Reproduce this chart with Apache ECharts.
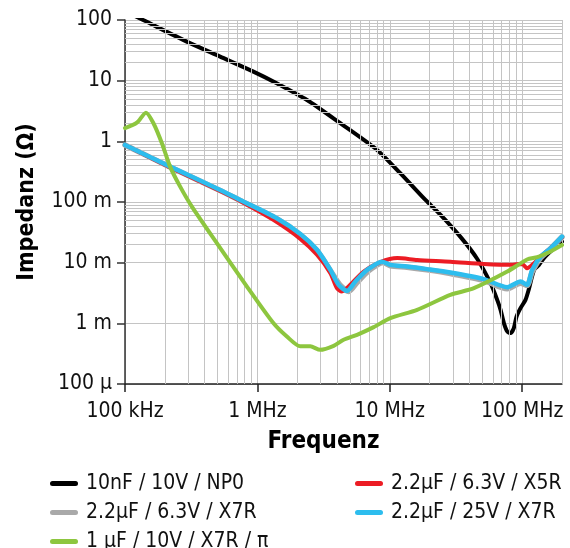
<!DOCTYPE html>
<html>
<head>
<meta charset="utf-8">
<script src="https://cdn.jsdelivr.net/npm/echarts@6/dist/echarts.min.js"></script>
<style>
  html, body { margin: 0; padding: 0; background: #fff; }
  #chart { width: 570px; height: 548px; }
</style>
</head>
<body>
<div id="chart"></div>
<script>
// Impedance vs. frequency of several MLCCs (log-log)
const FONT = "'DejaVu Sans Condensed', 'Liberation Sans Narrow', sans-serif";

const seriesNames = [
  '10nF / 10V / NP0',
  '2.2µF / 6.3V / X5R',
  '2.2µF / 6.3V / X7R',
  '2.2µF / 25V / X7R',
  '1 µF / 10V / X7R / π'
];

// frequency in Hz, impedance in Ohm
const freqNP0 = [1e5, 1.37e5, 2.93e5, 5.23e5, 9.33e5, 1.40e6, 2.37e6, 4.23e6, 8.02e6, 1.20e7, 1.86e7, 2.42e7, 3.42e7, 4.57e7, 5.77e7, 6.48e7, 6.87e7, 7.28e7, 7.72e7, 8.17e7, 8.65e7, 9.07e7, 9.72e7, 1.06e8, 1.12e8, 1.23e8, 1.34e8, 1.46e8, 1.69e8, 2.0e8];
const zNP0    = [140, 100, 44.0, 24.9, 14.1, 9.06, 4.81, 1.99, 0.722, 0.298, 0.108, 0.0613, 0.0266, 0.0116, 0.00459, 0.00244, 0.00167, 0.00101, 0.000733, 0.00069, 0.000834, 0.00129, 0.00178, 0.00244, 0.00356, 0.0076, 0.0092, 0.0119, 0.0163, 0.0223];

const freqX5R = [1e5, 2.19e5, 5.23e5, 7.41e5, 1.32e6, 2.11e6, 2.82e6, 3.56e6, 3.99e6, 4.35e6, 5.03e6, 6.35e6, 8.49e6, 1.14e7, 1.61e7, 2.87e7, 5.13e7, 8.17e7, 1.0e8, 1.09e8, 1.19e8, 1.38e8, 1.64e8, 2.0e8];
const zX5R    = [0.87, 0.372, 0.152, 0.104, 0.0507, 0.0247, 0.0135, 0.00671, 0.0038, 0.00334, 0.00431, 0.00713, 0.0102, 0.0119, 0.0111, 0.0104, 0.00955, 0.0092, 0.00955, 0.0081, 0.0092, 0.0126, 0.0175, 0.0261];

const freqX7R6 = [1e5, 2.19e5, 5.23e5, 7.41e5, 1.40e6, 2.11e6, 2.82e6, 3.56e6, 4.2e6, 4.9e6, 5.65e6, 6.9e6, 8.9e6, 1.01e7, 1.35e7, 1.91e7, 2.87e7, 5.13e7, 7.72e7, 9.72e7, 1.09e8, 1.19e8, 1.38e8, 1.64e8, 2.0e8];
const zX7R6    = [0.87, 0.378, 0.155, 0.106, 0.053, 0.029, 0.0158, 0.0074, 0.0043, 0.00335, 0.0047, 0.0073, 0.0101, 0.0089, 0.0084, 0.0076, 0.0066, 0.0051, 0.0037, 0.0046, 0.0042, 0.0070, 0.0120, 0.0170, 0.0265];

const freqX7R25 = [1e5, 2.19e5, 5.23e5, 7.41e5, 1.40e6, 2.11e6, 2.82e6, 3.56e6, 4.11e6, 4.75e6, 5.50e6, 6.74e6, 8.75e6, 1.01e7, 1.35e7, 1.91e7, 2.87e7, 5.13e7, 7.72e7, 9.72e7, 1.09e8, 1.19e8, 1.38e8, 1.64e8, 2.0e8];
const zX7R25    = [0.873, 0.383, 0.158, 0.108, 0.0541, 0.0298, 0.0163, 0.0076, 0.00431, 0.00343, 0.00489, 0.0076, 0.0104, 0.0092, 0.00863, 0.00782, 0.00687, 0.00535, 0.00395, 0.00489, 0.00431, 0.0076, 0.0126, 0.0173, 0.0269];

const freqPi = [1e5, 1.23e5, 1.44e5, 1.64e5, 1.90e5, 2.19e5, 2.61e5, 3.20e5, 4.94e5, 8.34e5, 1.32e6, 1.67e6, 2.11e6, 2.51e6, 2.98e6, 3.77e6, 4.48e6, 5.66e6, 7.56e6, 1.01e7, 1.61e7, 2.87e7, 4.32e7, 7.72e7, 1.09e8, 1.30e8, 1.55e8, 2.0e8];
const zPi    = [1.65, 2.03, 2.97, 1.99, 0.931, 0.383, 0.179, 0.084, 0.021, 0.00404, 0.00101, 0.000606, 0.000418, 0.000418, 0.000366, 0.000426, 0.000535, 0.000646, 0.000865, 0.00122, 0.00167, 0.00295, 0.0038, 0.00713, 0.0113, 0.0123, 0.0144, 0.0196];

// axis ticks
const xTickValues = [1e5, 1e6, 1e7, 1e8];
const xTickLabels = ['100 kHz', '1 MHz', '10 MHz', '100 MHz'];
const yTickValues = [1e-4, 1e-3, 1e-2, 1e-1, 1, 10, 100];
const yTickLabels = ['100 µ', '1 m', '10 m', '100 m', '1', '10', '100'];

const X_MIN = 1e5, X_MAX = 2e8, Y_MIN = 1e-4, Y_MAX = 100;

const zip = (f, z) => f.map((v, i) => [v, z[i]]);

function labelFor(values, labels) {
  return function (v) {
    for (let i = 0; i < values.length; i++) {
      if (Math.abs(Math.log10(v) - Math.log10(values[i])) < 1e-6) return labels[i];
    }
    return '';
  };
}

// minor log grid lines (2..9 within each decade)
const minorX = [], minorY = [];
for (let d = 1e5; d < X_MAX * 0.999; d *= 10) {
  for (let k = 2; k <= 9; k++) { const v = k * d; if (v <= X_MAX * 1.0001) minorX.push(v); }
}
for (let d = 1e-4; d < Y_MAX * 0.999; d *= 10) {
  for (let k = 2; k <= 9; k++) minorY.push(k * d);
}

const GRID_COLOR = '#c4c4c4';

const chart = echarts.init(document.getElementById('chart'), null, { renderer: 'canvas' });

const lineSeries = (name, data, color, width, z) => ({
  name, type: 'line', data, showSymbol: false, smooth: 0.25,
  lineStyle: { color, width, cap: 'round', join: 'round' },
  itemStyle: { color }, z, silent: true
});

const legendBase = {
  orient: 'vertical', top: 469, height: 100, padding: 0,
  itemWidth: 28, itemHeight: 5, itemGap: 0,
  selectedMode: false,
  icon: 'path://M2.5,0 H25.5 A2.5,2.5 0 0 1 25.5,5 H2.5 A2.5,2.5 0 0 1 2.5,0 Z',
  textStyle: { fontFamily: FONT, fontSize: 21, lineHeight: 29, color: '#111', padding: [0, 0, 0, 3] }
};

chart.setOption({
  animation: false,
  backgroundColor: '#fff',
  grid: { left: 125, right: 8, top: 20, bottom: 164 },
  legend: [
    Object.assign({}, legendBase, { left: 50, data: [seriesNames[0], seriesNames[2], seriesNames[4]] }),
    Object.assign({}, legendBase, { left: 355, data: [seriesNames[1], seriesNames[3]] })
  ],
  xAxis: {
    type: 'log', logBase: 10, min: X_MIN, max: X_MAX,
    name: 'Frequenz', nameLocation: 'middle', nameGap: 46,
    nameTextStyle: { fontFamily: FONT, fontSize: 24, fontWeight: 'bold', color: '#000', padding: [0, 40, 0, 0] },
    axisLine: { show: true, lineStyle: { color: '#222', width: 1.5 } },
    axisTick: { show: true, length: 8, inside: false, customValues: xTickValues, lineStyle: { color: '#222', width: 1.5 } },
    axisLabel: { fontFamily: FONT, fontSize: 21, color: '#111', margin: 17, formatter: labelFor(xTickValues, xTickLabels) },
    splitLine: { show: true, lineStyle: { color: GRID_COLOR, width: 1 } }
  },
  yAxis: {
    type: 'log', logBase: 10, min: Y_MIN, max: Y_MAX,
    name: 'Impedanz (Ω)', nameLocation: 'middle', nameGap: 86, nameRotate: 90,
    nameTextStyle: { fontFamily: FONT, fontSize: 23, fontWeight: 'bold', color: '#000' },
    axisLine: { show: true, lineStyle: { color: '#333', width: 1.5 } },
    axisTick: { show: true, length: 8, inside: false, lineStyle: { color: '#333', width: 1.5 } },
    axisLabel: { fontFamily: FONT, fontSize: 21, color: '#111', margin: 13, formatter: labelFor(yTickValues, yTickLabels) },
    splitLine: { show: true, lineStyle: { color: GRID_COLOR, width: 1 } }
  },
  series: [
    {
      type: 'line', data: [], silent: true, z: 1,
      markLine: {
        silent: true, symbol: 'none', animation: false,
        label: { show: false },
        lineStyle: { type: 'solid', color: GRID_COLOR, width: 1 },
        data: minorX.map(v => ({ xAxis: v })).concat(minorY.map(v => ({ yAxis: v })))
      }
    },
    lineSeries(seriesNames[0], zip(freqNP0, zNP0), '#000000', 4, 3),
    lineSeries(seriesNames[2], zip(freqX7R6, zX7R6), '#a9a9a9', 5.5, 4),
    lineSeries(seriesNames[1], zip(freqX5R, zX5R), '#ec1c24', 4, 5),
    lineSeries(seriesNames[3], zip(freqX7R25, zX7R25), '#2dbdee', 4.5, 6),
    lineSeries(seriesNames[4], zip(freqPi, zPi), '#8dc63f', 4, 7)
  ]
});
</script>
</body>
</html>
